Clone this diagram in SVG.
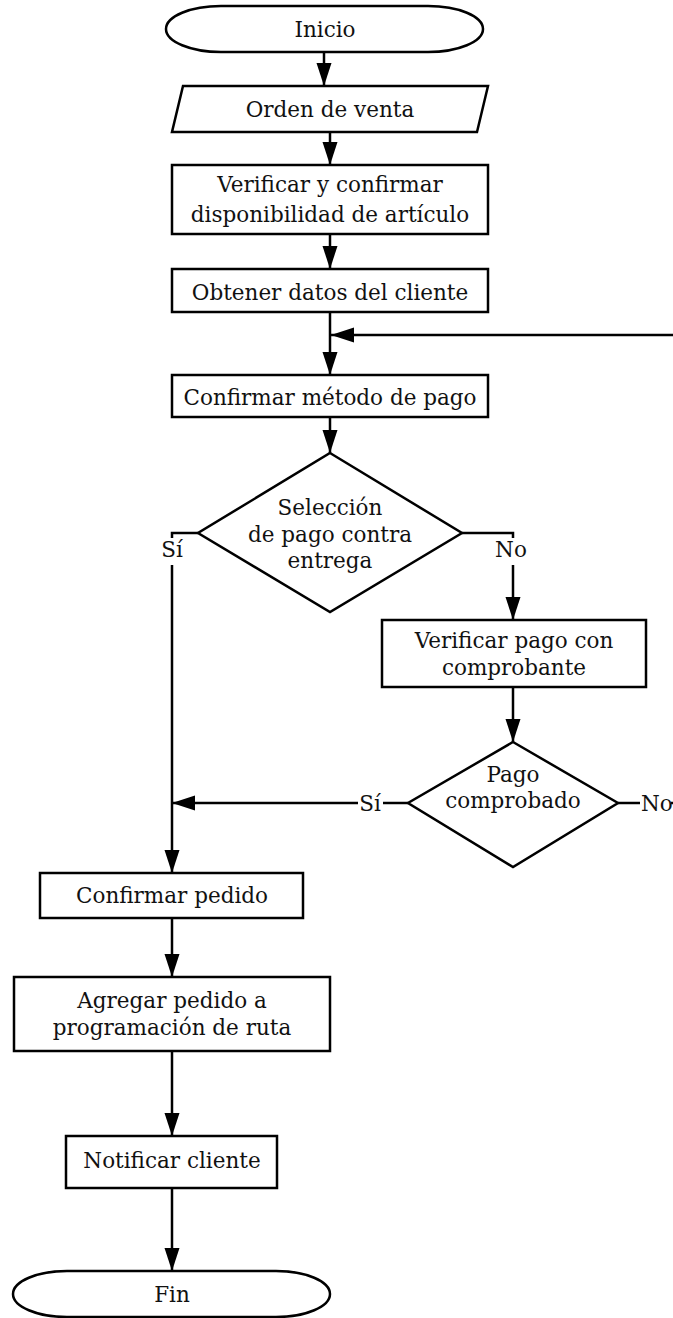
<svg xmlns="http://www.w3.org/2000/svg" width="673" height="1318" viewBox="0 0 673 1318">
<defs>
<style>
.s{fill:#fff;stroke:#000;stroke-width:2.5}
.t{font-family:"DejaVu Serif","Liberation Serif",serif;font-size:21.5px;fill:#111;text-anchor:middle}
.c{fill:none;stroke:#000;stroke-width:2.5}
</style>
<marker id="ah" markerUnits="userSpaceOnUse" markerWidth="26" markerHeight="16" refX="23" refY="7.5" orient="auto">
<path d="M0,0 L23,7.5 L0,15 Z" fill="#000"/>
</marker>
</defs>
<rect width="673" height="1318" fill="#fff"/>
<g id="connectors">
<path class="c" d="M324,53 V86" marker-end="url(#ah)"/>
<path class="c" d="M330,132 V165" marker-end="url(#ah)"/>
<path class="c" d="M330,234 V269" marker-end="url(#ah)"/>
<path class="c" d="M330,312 V375" marker-end="url(#ah)"/>
<path class="c" d="M680,335 H331" marker-end="url(#ah)"/>
<path class="c" d="M330,417 V453" marker-end="url(#ah)"/>
<path class="c" d="M198,533 H172 V538"/>
<path class="c" d="M172,565 V873" marker-end="url(#ah)"/>
<path class="c" d="M462,533 H513 V538"/>
<path class="c" d="M513,565 V620" marker-end="url(#ah)"/>
<path class="c" d="M513,687 V742" marker-end="url(#ah)"/>
<path class="c" d="M408,803 H383"/>
<path class="c" d="M358,803 H172" marker-end="url(#ah)"/>
<path class="c" d="M618,803 H640"/>
<path class="c" d="M671,803 H680"/>
<path class="c" d="M172,918 V977" marker-end="url(#ah)"/>
<path class="c" d="M172,1051 V1136" marker-end="url(#ah)"/>
<path class="c" d="M172,1188 V1271" marker-end="url(#ah)"/>
<text class="t" x="172" y="557">Sí</text>
<text class="t" x="511" y="557">No</text>
<text class="t" x="370" y="811">Sí</text>
<text class="t" x="641" y="811" style="text-anchor:start">No</text>
</g>
<g id="inicio">
<path class="s" d="M221,6 H428 A55,23 0 0 1 428,52 H221 A55,23 0 0 1 221,6 Z"/>
<text class="t" x="325" y="37">Inicio</text>
</g>
<g id="orden">
<polygon class="s" points="183,86 488,86 477,132 172,132"/>
<text class="t" x="330" y="117">Orden de venta</text>
</g>
<g id="verificar">
<rect class="s" x="172" y="165" width="316" height="69"/>
<text class="t" x="330" y="192">Verificar y confirmar</text>
<text class="t" x="330" y="222">disponibilidad de artículo</text>
</g>
<g id="obtener">
<rect class="s" x="172" y="269" width="316" height="43"/>
<text class="t" x="330" y="300">Obtener datos del cliente</text>
</g>
<g id="metodo">
<rect class="s" x="172" y="375" width="316" height="42"/>
<text class="t" x="330" y="405">Confirmar método de pago</text>
</g>
<g id="seleccion">
<polygon class="s" points="330,453 462,533 330,612 198,533"/>
<text class="t" x="330" y="515">Selección</text>
<text class="t" x="330" y="542">de pago contra</text>
<text class="t" x="330" y="568">entrega</text>
</g>
<g id="verificar-pago">
<rect class="s" x="382" y="620" width="264" height="67"/>
<text class="t" x="514" y="648">Verificar pago con</text>
<text class="t" x="514" y="675">comprobante</text>
</g>
<g id="pago-comprobado">
<polygon class="s" points="513,742 618,803 513,867 408,803"/>
<text class="t" x="513" y="782">Pago</text>
<text class="t" x="513" y="808">comprobado</text>
</g>
<g id="confirmar-pedido">
<rect class="s" x="40" y="873" width="263" height="45"/>
<text class="t" x="172" y="903">Confirmar pedido</text>
</g>
<g id="agregar">
<rect class="s" x="14" y="977" width="316" height="74"/>
<text class="t" x="172" y="1008">Agregar pedido a</text>
<text class="t" x="172" y="1035">programación de ruta</text>
</g>
<g id="notificar">
<rect class="s" x="66" y="1136" width="211" height="52"/>
<text class="t" x="172" y="1168">Notificar cliente</text>
</g>
<g id="fin">
<path class="s" d="M67,1271 H276 A54,23 0 0 1 276,1317 H67 A54,23 0 0 1 67,1271 Z"/>
<text class="t" x="172" y="1302">Fin</text>
</g>
</svg>
